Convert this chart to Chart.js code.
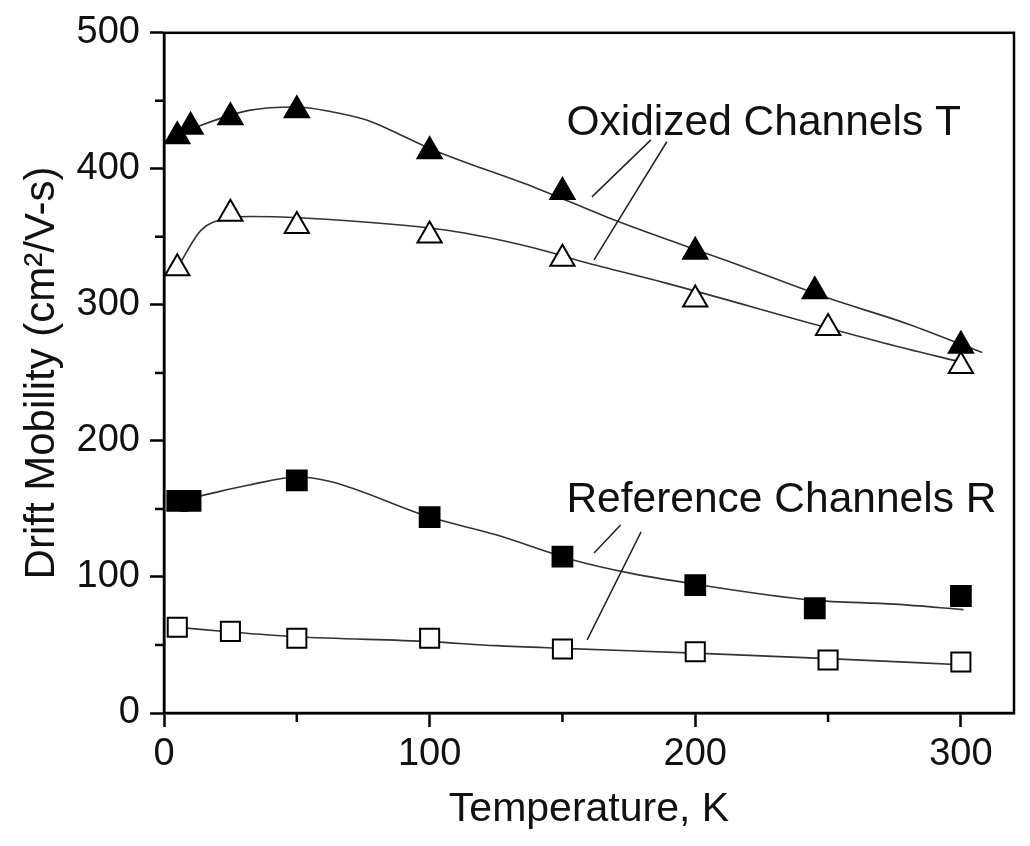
<!DOCTYPE html>
<html>
<head>
<meta charset="utf-8">
<script src="https://cdn.jsdelivr.net/npm/chart.js@4/dist/chart.umd.min.js"></script>
<style>
  html, body { margin: 0; padding: 0; background: #fff; }
  #wrap { width: 1030px; height: 846px; }
</style>
</head>
<body>
<div id="wrap"><canvas id="mobilityChart" width="1030" height="846"></canvas></div>
<script>
// measured points (temperature K, drift mobility cm2/V-s)
const tempOxFilled = [5, 10, 25, 50, 100, 150, 200, 245, 300];
const mobOxFilled = [424, 431, 438, 443, 413, 383, 339, 310, 270];
const tempOxOpen = [5, 25, 50, 100, 150, 200, 250, 300];
const mobOxOpen = [327, 367, 358, 351, 334, 304, 283, 255];
const tempRefFilled = [5, 10, 50, 100, 150, 200, 245, 300];
const mobRefFilled = [156, 156, 171, 144, 115, 94, 77, 86];
const tempRefOpen = [5, 25, 50, 100, 150, 200, 250, 300];
const mobRefOpen = [63, 60, 55, 55, 47, 45, 39, 37.5];

// guide curves
const curveOxFilledT = [1.5, 14, 32, 50, 63, 76, 88, 100, 140, 170, 214, 250, 280, 308];
const curveOxFilledV = [421, 432, 443, 445.5, 442, 436, 426, 415, 386, 362, 331, 305, 286, 265];
const curveOxOpenT = [5, 14, 26, 32, 51, 106, 139, 158, 189, 250, 275, 300];
const curveOxOpenV = [327, 355, 364, 365, 364, 355, 342, 331.5, 316, 283, 270, 258];
const curveRefFilledT = [5, 12.4, 32, 50.7, 63, 100, 125, 154, 175, 199, 244, 275, 301];
const curveRefFilledV = [156, 159, 167.6, 173.5, 170, 144, 131, 112.5, 103, 95, 83, 80, 76];
const curveRefOpenT = [5, 25, 50, 100, 125, 150, 200, 250, 300];
const curveRefOpenV = [63, 59.5, 56, 52.5, 49.5, 47.5, 44, 40, 35.5];

const xTicks = [0, 100, 200, 300];
const xMinor = [50, 150, 250];
const yTicks = [0, 100, 200, 300, 400, 500];
const yMinor = [50, 150, 250, 350, 450];

// annotation labels and pointer lines, in data units
const labels = [
  { text: 'Oxidized Channels T', x: 151.5, y: 425 },
  { text: 'Reference Channels R', x: 151.5, y: 148 }
];
const pointers = [
  [183.3, 421.3, 161.1, 379.4],
  [189.3, 419.9, 161.9, 333.1],
  [171.9, 138.2, 161.9, 117.6],
  [179.6, 133.1, 159.3, 53.7]
];

const FONT = "'Liberation Sans', Arial, sans-serif";
const INK = '#111';

const pts = (xs, ys) => xs.map((x, i) => ({ x: x, y: ys[i] }));

function markers(xs, ys, style, filled, r) {
  return {
    data: pts(xs, ys),
    showLine: false,
    pointStyle: style,
    pointRadius: r,
    pointBackgroundColor: filled ? '#000' : '#fff',
    pointBorderColor: '#000',
    pointBorderWidth: 2,
    order: 0
  };
}

function curve(xs, ys) {
  return {
    data: pts(xs, ys),
    showLine: true,
    borderColor: '#333',
    borderWidth: 1.6,
    pointRadius: 0,
    cubicInterpolationMode: 'monotone',
    fill: false,
    order: 1
  };
}

const framePlugin = {
  id: 'frame',
  afterDraw(chart) {
    const { ctx, chartArea: a, scales } = chart;
    ctx.save();
    ctx.strokeStyle = '#000';
    ctx.lineWidth = 2.5;
    ctx.strokeRect(a.left, a.top, a.right - a.left, a.bottom - a.top);
    // minor ticks
    ctx.beginPath();
    xMinor.forEach(v => {
      const px = scales.x.getPixelForValue(v);
      ctx.moveTo(px, a.bottom);
      ctx.lineTo(px, a.bottom + 9);
    });
    yMinor.forEach(v => {
      const py = scales.y.getPixelForValue(v);
      ctx.moveTo(a.left, py);
      ctx.lineTo(a.left - 9, py);
    });
    ctx.stroke();
    // pointer lines
    ctx.strokeStyle = '#222';
    ctx.lineWidth = 1.5;
    ctx.beginPath();
    pointers.forEach(p => {
      ctx.moveTo(scales.x.getPixelForValue(p[0]), scales.y.getPixelForValue(p[1]));
      ctx.lineTo(scales.x.getPixelForValue(p[2]), scales.y.getPixelForValue(p[3]));
    });
    ctx.stroke();
    // labels
    ctx.fillStyle = INK;
    ctx.font = '42.5px ' + FONT;
    ctx.textBaseline = 'alphabetic';
    ctx.textAlign = 'left';
    labels.forEach(l => {
      ctx.fillText(l.text, scales.x.getPixelForValue(l.x), scales.y.getPixelForValue(l.y));
    });
    ctx.restore();
  }
};

new Chart(document.getElementById('mobilityChart'), {
  type: 'scatter',
  data: {
    datasets: [
      markers(tempOxFilled, mobOxFilled, 'triangle', true, 14),
      markers(tempOxOpen, mobOxOpen, 'triangle', false, 14),
      markers(tempRefFilled, mobRefFilled, 'rect', true, 14),
      markers(tempRefOpen, mobRefOpen, 'rect', false, 13.5),
      curve(curveOxFilledT, curveOxFilledV),
      curve(curveOxOpenT, curveOxOpenV),
      curve(curveRefFilledT, curveRefFilledV),
      curve(curveRefOpenT, curveRefOpenV)
    ]
  },
  options: {
    responsive: false,
    animation: false,
    layout: { padding: { left: 0, right: 4, top: 32, bottom: 0 } },
    plugins: { legend: { display: false }, tooltip: { enabled: false } },
    scales: {
      x: {
        type: 'linear',
        min: 0,
        max: 320,
        afterBuildTicks: s => { s.ticks = xTicks.map(v => ({ value: v })); },
        afterFit: s => { s.height = 133; },
        ticks: { color: INK, font: { family: FONT, size: 38 }, padding: 5, maxRotation: 0, autoSkip: false },
        grid: { drawOnChartArea: false, color: '#000', tickLength: 14, tickWidth: 2.5 },
        border: { color: '#000', width: 2.5 },
        title: {
          display: true,
          text: 'Temperature, K',
          color: INK,
          font: { family: FONT, size: 41 },
          padding: { top: 0, bottom: 12 }
        }
      },
      y: {
        type: 'linear',
        min: 0,
        max: 500,
        afterBuildTicks: s => { s.ticks = yTicks.map(v => ({ value: v })); },
        afterFit: s => { s.width = 164; },
        ticks: { color: INK, font: { family: FONT, size: 38 }, padding: 10, autoSkip: false },
        grid: { drawOnChartArea: false, color: '#000', tickLength: 14, tickWidth: 2.5 },
        border: { color: '#000', width: 2.5 },
        title: {
          display: true,
          text: 'Drift Mobility (cm\u00B2/V-s)',
          color: INK,
          font: { family: FONT, size: 42 },
          padding: { top: 17, bottom: 0 }
        }
      }
    }
  },
  plugins: [framePlugin]
});
</script>
</body>
</html>
